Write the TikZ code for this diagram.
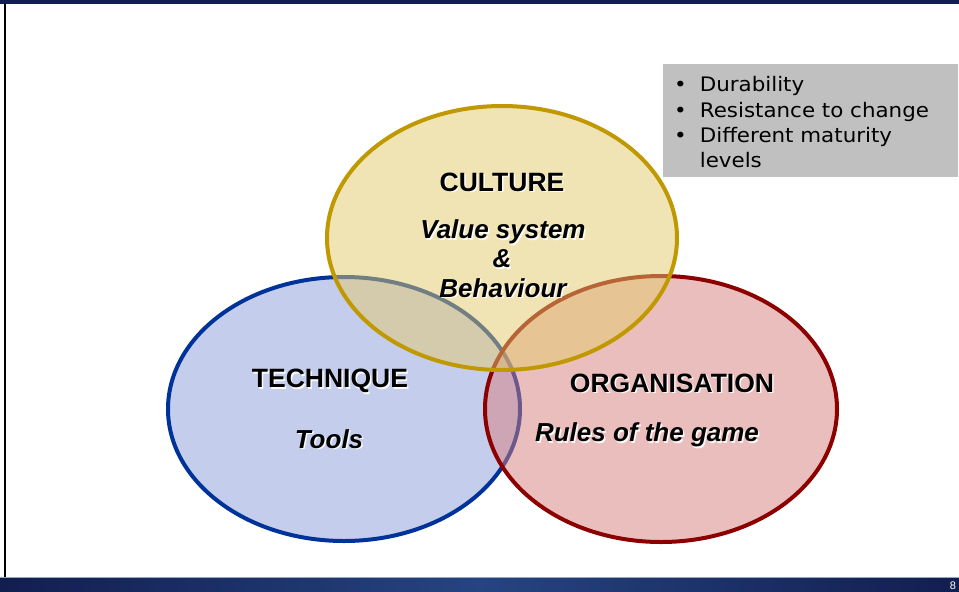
\documentclass[tikz,border=0pt]{standalone}
\usepackage{fontspec}
\setmainfont{Liberation Sans}
\newfontfamily\boxfont[FakeStretch=1.07]{DejaVu Sans}
\definecolor{goldline}{RGB}{192,152,0}
\definecolor{goldfill}{RGB}{226,202,108}
\definecolor{blueline}{RGB}{0,51,153}
\definecolor{bluefill}{RGB}{138,158,218}
\definecolor{redline}{RGB}{140,0,0}
\definecolor{redfill}{RGB}{216,126,126}
\definecolor{navy}{RGB}{18,30,80}
\definecolor{midblue}{RGB}{38,68,130}
\definecolor{boxgrey}{RGB}{192,192,192}
\tikzset{
  circ/.style={line width=4pt, fill opacity=0.5},
  lbl/.style={font=\bfseries\fontsize{26.5}{30}\selectfont, text=black, inner sep=0pt},
  ilbl/.style={font=\bfseries\itshape\fontsize{26}{30}\selectfont, text=black, inner sep=0pt},
  shd/.style={text=white, text opacity=0.9},
}
\begin{document}
\begin{tikzpicture}[x=1pt,y=-1pt]
\useasboundingbox (0,0) rectangle (959,592);
\fill[white] (0,0) rectangle (959,592);
% top band
\fill[navy] (0,0) rectangle (959,4);
% bottom band
\shade[left color=navy, right color=navy, middle color=midblue] (0,578) rectangle (959,592);
\draw[line width=1pt, color={rgb,255:red,150;green,170;blue,190}] (0,577.5) -- (959,577.5);
% left border
\draw[line width=2pt, black] (5,4) -- (5,577);
% ellipses
\draw[circ, draw=blueline, fill=bluefill] (344,409) ellipse [x radius=176, y radius=132];
\draw[circ, draw=redline, fill=redfill] (661,409) ellipse [x radius=176, y radius=133];
\draw[circ, draw=goldline, fill=goldfill] (502,238) ellipse [x radius=175, y radius=132];
% label shadows
\node[lbl, shd] (culs) at (503.5,183.5) {CULTURE};
\node[ilbl, shd] (vals) at (504.5,233.5) {Value system};
\node[ilbl, shd] (amps) at (503.5,260.5) {\&};
\node[ilbl, shd] (behs) at (504.5,289.5) {Behaviour};
\node[lbl, shd] (tecs) at (331.5,382.5) {TECHNIQUE};
\node[ilbl, shd] (toos) at (330.5,440.5) {Tools};
\node[lbl, shd] (orgs) at (673.5,384.5) {ORGANISATION};
\node[ilbl, shd] (ruls) at (648.5,436.5) {Rules of the game};
% labels
\node[lbl] (cul) at (502,182) {CULTURE};
\node[ilbl] (val) at (503,232) {Value system};
\node[ilbl] (amp) at (502,259) {\&};
\node[ilbl] (beh) at (503,288) {Behaviour};
\node[lbl] (tec) at (330,381) {TECHNIQUE};
\node[ilbl] (too) at (329,439) {Tools};
\node[lbl] (org) at (672,383) {ORGANISATION};
\node[ilbl] (rul) at (647,435) {Rules of the game};
% grey box
\node[fill=boxgrey, minimum width=295pt, minimum height=113pt, anchor=north west, inner sep=0pt] (box) at (663,64) {};
\node[anchor=north west, inner sep=0pt, font=\boxfont\fontsize{20}{25.3}\selectfont, align=left] (items) at (674,74) {%
\begin{tabular}{@{}l@{\hspace{13pt}}l@{}}
\textbullet & Durability\\
\textbullet & Resistance to change\\
\textbullet & Different maturity\\
 & levels
\end{tabular}};
% page number
\node[text=white, font=\fontsize{11}{12}\selectfont, inner sep=0pt] (pg) at (953,586) {8};
\end{tikzpicture}
\end{document}
